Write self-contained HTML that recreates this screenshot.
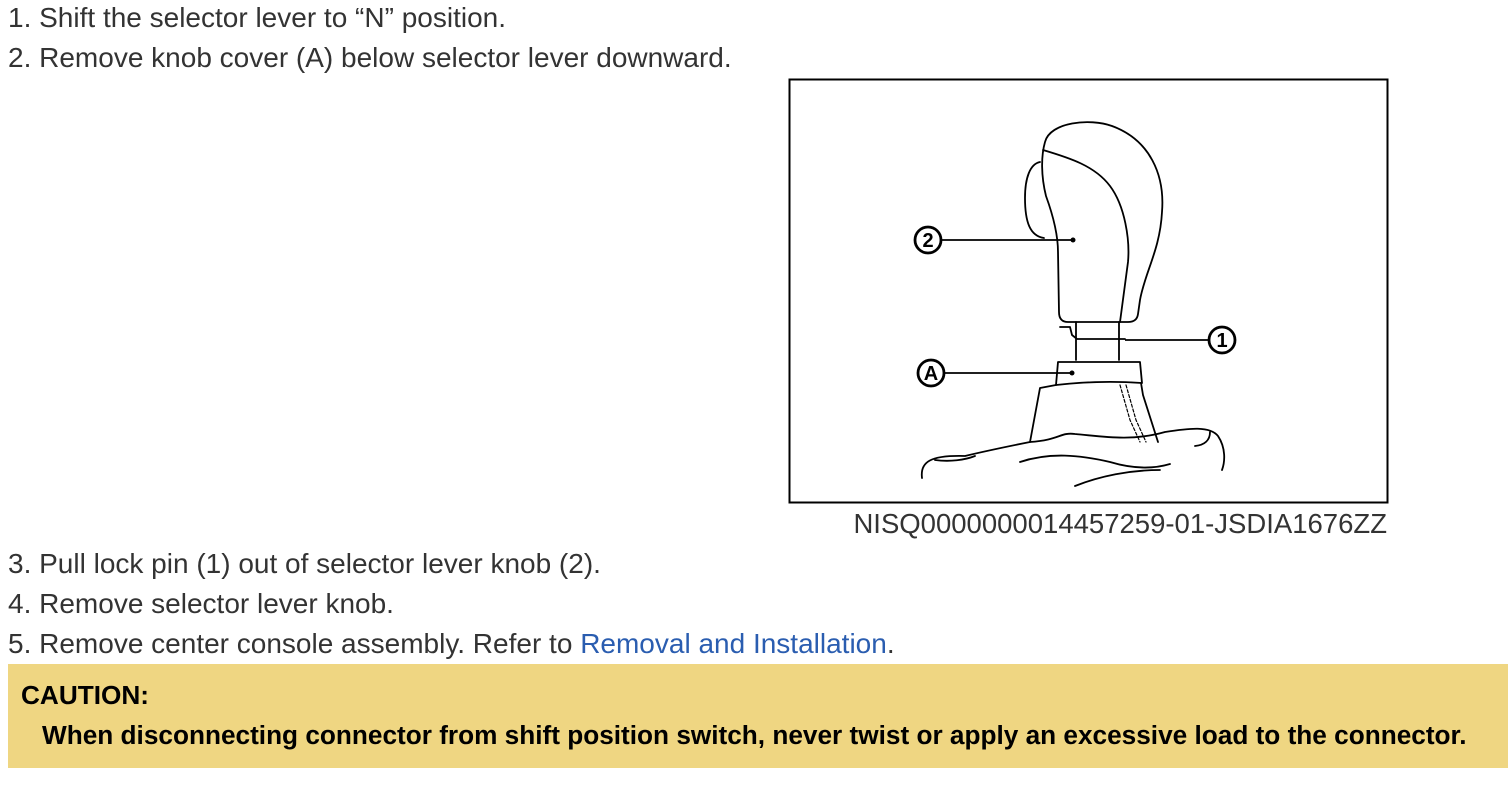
<!DOCTYPE html>
<html><head><meta charset="utf-8"><style>
body{margin:0;width:1508px;height:804px;background:#fff;font-family:"Liberation Sans",sans-serif;color:#333;position:relative;overflow:hidden}
.t{position:absolute;left:8px;font-size:28px;line-height:32px;white-space:nowrap}
a{color:#2a5db0;text-decoration:none}
.box{position:absolute;left:8px;top:664px;width:1500px;height:104px;background:#efd682}
.c{position:absolute;font-weight:bold;color:#000;font-size:26.2px;line-height:32px;white-space:nowrap}
</style></head><body>
<div class="t" style="top:2px">1. Shift the selector lever to “N” position.</div>
<div class="t" style="top:42px">2. Remove knob cover (A) below selector lever downward.</div>
<svg style="position:absolute;left:0;top:0" width="1508" height="804">
<rect x="789.5" y="79.5" width="598" height="423" fill="#fff" stroke="#000" stroke-width="2"/>
<g fill="none" stroke="#000" stroke-width="1.8" stroke-linejoin="round" stroke-linecap="round">
<path d="M1045,142 C1050,122 1090,118 1112,126 C1150,140 1165,175 1162,212 C1160,250 1145,272 1140,300 L1138,314 Q1137,322 1128,322 L1068,322 Q1059,322 1059,312 L1058,252 C1058,236 1054,218 1046,196 C1041,176 1041,156 1045,142 Z"/>
<path d="M1043,150 C1070,158 1095,166 1110,186 C1125,206 1130,240 1128,262 L1120,322"/>
<path d="M1040,162 C1030,164 1025,178 1025,198 C1025,222 1030,236 1044,238"/>
<path d="M1076,322 L1076,360 M1119,322 L1119,360"/>
<path d="M1060,327 L1070,327 L1072,335 L1077,339 L1125,339"/>
<path d="M1058,362 L1140,362 L1142,383 Q1100,380 1056,385 Z"/>
<path d="M1056,385 L1040,388 L1030,442 M1141,383 L1143,395 L1158,442"/>
<path d="M1120,385 L1130,420 L1140,442 M1126,385 L1136,420 L1146,442" stroke-dasharray="3,2" stroke-width="1.2"/>
<path d="M922,478 C920,462 930,455 965,456 C990,450 1010,446 1030,442 C1060,440 1060,432 1075,434 C1100,436 1130,442 1165,432 C1190,428 1210,426 1218,436 C1226,448 1225,462 1222,470"/>
<path d="M935,460 C950,462 965,460 975,456 M1020,462 C1050,452 1080,455 1110,462 C1130,468 1150,470 1170,464 M1075,486 C1100,476 1130,470 1160,470 M1195,446 C1205,445 1210,440 1210,432"/>
</g>
<g stroke="#000" stroke-width="1.8" fill="none">
<circle cx="928" cy="240" r="13" stroke-width="2.8"/>
<line x1="941" y1="240" x2="1073" y2="240"/>
<circle cx="931" cy="373" r="13" stroke-width="2.8"/>
<line x1="944" y1="373" x2="1072" y2="373"/>
<circle cx="1222" cy="340" r="13" stroke-width="2.8"/>
<line x1="1125" y1="340" x2="1209" y2="340"/>
</g>
<circle cx="1073" cy="240" r="2.5"/><circle cx="1072" cy="373" r="2.5"/>
<g font-family="Liberation Sans,sans-serif" font-weight="bold" font-size="20" text-anchor="middle">
<text x="928" y="247">2</text><text x="931" y="380">A</text><text x="1222" y="347">1</text>
</g>
</svg>
<div class="t" style="top:508px;left:auto;right:121px;font-size:27.5px">NISQ0000000014457259-01-JSDIA1676ZZ</div>
<div class="t" style="top:548px">3. Pull lock pin (1) out of selector lever knob (2).</div>
<div class="t" style="top:588px">4. Remove selector lever knob.</div>
<div class="t" style="top:628px">5. Remove center console assembly. Refer to <a>Removal and Installation</a>.</div>
<div class="box"></div>
<div class="c" style="left:21px;top:679px">CAUTION:</div>
<div class="c" style="left:42px;top:719px">When disconnecting connector from shift position switch, never twist or apply an excessive load to the connector.</div>
</body></html>
